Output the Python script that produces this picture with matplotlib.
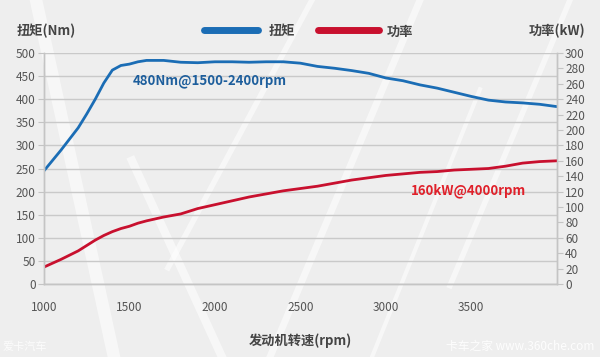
import matplotlib
matplotlib.use("Agg")
import matplotlib.pyplot as plt
import numpy as np

plt.rcParams['font.family'] = ['Noto Sans CJK SC', 'DejaVu Sans']

# engine speed (rpm)
rpm = [1000, 1100, 1200, 1250, 1300, 1350, 1400, 1450, 1500, 1550, 1600, 1700, 1800, 1900,
       2000, 2100, 2200, 2300, 2400, 2500, 2600, 2700, 2800, 2900, 3000, 3100, 3200,
       3300, 3400, 3500, 3600, 3700, 3800, 3900, 4000]
# torque (Nm)
torque = [245, 290, 338, 368, 400, 435, 463, 473, 476, 481, 484, 484, 480, 479,
          481, 481, 480, 481, 481, 478, 471, 467, 462, 456, 446, 440, 431,
          424, 415, 406, 398, 394, 392, 389, 384]
# power (kW)
power = [22, 32, 43, 50, 57, 63, 68, 72, 75, 79, 82, 87, 91, 98,
         103, 108, 113, 117, 121, 124, 127, 131, 135, 138, 141, 143, 145,
         146, 148, 149, 150, 153, 157, 159, 160]

x_ticks = [1000, 1500, 2000, 2500, 3000, 3500]
torque_ticks = np.arange(0, 501, 50)
power_ticks = np.arange(0, 301, 20)

blue = '#1b6db5'
red = '#c8102e'
txt = '#555555'

fig = plt.figure(figsize=(6, 3.57), dpi=100)
fig.patch.set_facecolor('#eeeeee')

# faint white streaks of the background picture
streaks = [([0.06, 0.19], [1.0, 0.0], 9), ([0.22, 0.37], [0.55, 0.0], 6),
           ([0.28, 0.52], [0.25, 1.0], 4), ([0.45, 0.70], [0.0, 1.0], 5),
           ([0.62, 0.80], [0.0, 0.75], 3), ([0.75, 0.95], [0.2, 1.0], 4)]
for xs, ys, lw in streaks:
    fig.add_artist(plt.Line2D(xs, ys, color='white', linewidth=lw, alpha=0.55, zorder=-5))

ax = fig.add_axes([0.0733, 0.2045, 0.8547, 0.647])
ax.set_facecolor('none')
ax2 = ax.twinx()

ax.plot(rpm, torque, color=blue, linewidth=2.0, solid_capstyle='round')
ax2.plot(rpm, power, color=red, linewidth=2.0, solid_capstyle='round')

ax.set_xlim(1000, 4000)
ax.set_ylim(0, 500)
ax2.set_ylim(0, 300)
ax.set_xticks(x_ticks)
ax.set_yticks(torque_ticks)
ax2.set_yticks(power_ticks)
ax.yaxis.grid(True, color='#c9c9c9', linewidth=1.0)
ax.set_axisbelow(True)

for a in (ax, ax2):
    a.spines['top'].set_visible(False)
    for s in ('left', 'right', 'bottom'):
        a.spines[s].set_color('#c4c4c4')
        a.spines[s].set_linewidth(1.0)
ax.tick_params(axis='y', colors='#c4c4c4', labelcolor=txt, labelsize=8.5, length=4, pad=2)
ax.tick_params(axis='x', length=0, labelcolor=txt, labelsize=8.5, pad=12)
ax2.tick_params(axis='y', colors='#c4c4c4', labelcolor=txt, labelsize=8.5, length=4, pad=2)

ax.set_xlabel('发动机转速(rpm)', fontsize=9.5, fontweight='bold', color='#444444', labelpad=14)

fig.text(0.028, 0.912, '扭矩(Nm)', fontsize=9.5, fontweight='bold', color='#444444', va='center')
fig.text(0.976, 0.912, '功率(kW)', fontsize=9.5, fontweight='bold', color='#444444', va='center', ha='right')

# legend
fig.add_artist(plt.Line2D([0.34, 0.43], [0.916, 0.916], color=blue, linewidth=5, solid_capstyle='round'))
fig.text(0.448, 0.912, '扭矩', fontsize=9.5, fontweight='bold', color='#444444', va='center')
fig.add_artist(plt.Line2D([0.53, 0.632], [0.916, 0.916], color=red, linewidth=5, solid_capstyle='round'))
fig.text(0.645, 0.912, '功率', fontsize=9.5, fontweight='bold', color='#444444', va='center')

ax.text(0.173, 0.88, '480Nm@1500-2400rpm', transform=ax.transAxes, fontsize=9.5,
        fontweight='bold', color='#1d5e9c', va='center')
ax.text(0.715, 0.403, '160kW@4000rpm', transform=ax.transAxes, fontsize=9.5,
        fontweight='bold', color='#e0202a', va='center')

# watermarks
fig.text(0.005, 0.02, '爱卡汽车', fontsize=8, color='white', alpha=0.8)
fig.text(0.99, 0.02, '卡车之家 www.360che.com', fontsize=8.5, color='white', alpha=0.9, ha='right')

fig.savefig('out.png', dpi=100, facecolor=fig.get_facecolor())
